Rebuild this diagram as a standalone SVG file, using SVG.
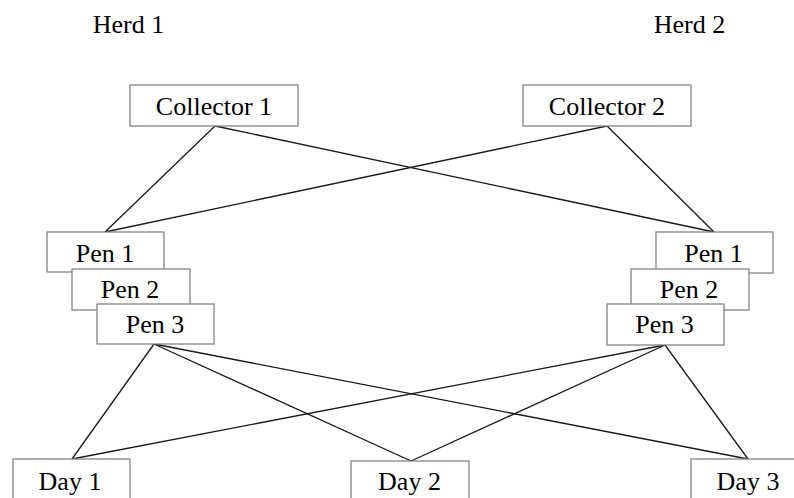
<svg xmlns="http://www.w3.org/2000/svg" width="794" height="498" viewBox="0 0 794 498">
<style>
text{font-family:"Liberation Serif","Times New Roman",serif;font-size:26px;fill:#000;text-anchor:middle}
.box{fill:#fff;stroke:#7a7a7a;stroke-width:1.2}
.ln{stroke:#1a1a1a;stroke-width:1.3;fill:none}
</style>
<rect width="794" height="498" fill="#fff"/>
<g id="connectors">
<line class="ln" x1="215" y1="126" x2="105" y2="232"/>
<line class="ln" x1="215" y1="126" x2="714" y2="232"/>
<line class="ln" x1="607" y1="126" x2="105" y2="232"/>
<line class="ln" x1="607" y1="126" x2="714" y2="232"/>
<line class="ln" x1="154" y1="344" x2="72" y2="459"/>
<line class="ln" x1="154" y1="344" x2="411" y2="461"/>
<line class="ln" x1="154" y1="344" x2="748" y2="459"/>
<line class="ln" x1="665" y1="345" x2="72" y2="459"/>
<line class="ln" x1="665" y1="345" x2="411" y2="461"/>
<line class="ln" x1="665" y1="345" x2="748" y2="459"/>
</g>
<g id="herd1"><text x="128.5" y="33">Herd 1</text></g>
<g id="herd2"><text x="689.5" y="33">Herd 2</text></g>
<g id="collector1"><rect class="box" x="130" y="85" width="168" height="41"/><text x="214" y="115">Collector 1</text></g>
<g id="collector2"><rect class="box" x="523" y="85" width="168" height="41"/><text x="607" y="115">Collector 2</text></g>
<g id="pen1-left"><rect class="box" x="47" y="232" width="117" height="40"/><text x="105" y="262">Pen 1</text></g>
<g id="pen2-left"><rect class="box" x="72" y="269" width="118" height="41"/><text x="130" y="298">Pen 2</text></g>
<g id="pen3-left"><rect class="box" x="97" y="304" width="117" height="40"/><text x="155" y="333">Pen 3</text></g>
<g id="pen1-right"><rect class="box" x="656" y="232" width="117" height="41"/><text x="713.5" y="262">Pen 1</text></g>
<g id="pen2-right"><rect class="box" x="631" y="269" width="118" height="41"/><text x="689" y="298">Pen 2</text></g>
<g id="pen3-right"><rect class="box" x="607" y="304" width="117" height="41"/><text x="664.5" y="333">Pen 3</text></g>
<g id="day1"><rect class="box" x="13" y="459" width="117" height="50"/><text x="70" y="490">Day 1</text></g>
<g id="day2"><rect class="box" x="351" y="461" width="118" height="50"/><text x="409.5" y="490">Day 2</text></g>
<g id="day3"><rect class="box" x="691" y="459" width="117" height="50"/><text x="748" y="490">Day 3</text></g>
</svg>
